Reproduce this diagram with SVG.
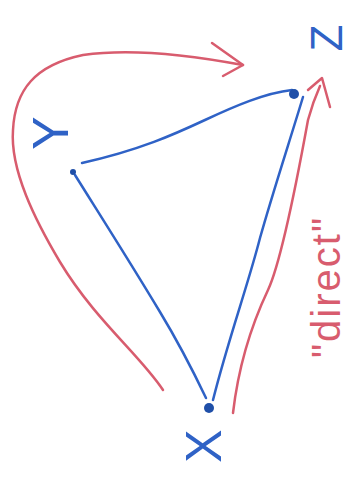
<svg xmlns="http://www.w3.org/2000/svg" width="354" height="479" viewBox="0 0 354 479">
<style>
.blue{stroke:#2f62c6;stroke-width:2.5;fill:none;stroke-linecap:round;stroke-linejoin:round}
.red{stroke:#d85c6e;stroke-width:2.5;fill:none;stroke-linecap:round;stroke-linejoin:round}
.dot{fill:#1f4fa8}
.lbl{font-family:"Liberation Sans","DejaVu Sans",sans-serif;fill:#2f62c6;font-size:50px;text-anchor:middle}
.rlbl{font-family:"Liberation Sans","DejaVu Sans",sans-serif;fill:#d85c6e;font-size:40px;text-anchor:middle;letter-spacing:2px}
</style>
<rect width="354" height="479" fill="#ffffff"/>
<g id="connectors">
  <path class="blue" d="M82,163 C140,150 175,134 205,120 S265,93 292,90"/>
  <path class="blue" d="M75,175 C100,215 130,262 160,312 C180,345 195,375 206,398"/>
  <path class="blue" d="M303,97 C290,140 272,195 260,238 C248,285 228,340 213,400"/>
  <path class="red" d="M163,390 C140,355 95,320 60,262 C35,220 10,170 13,130 C15,90 35,65 83,55 C130,48 190,55 243,65"/>
  <path class="red" d="M212,43 L243,65 L223,76"/>
  <path class="red" d="M233,413 C238,370 250,328 268,290 C282,260 298,175 308,120 C312,105 316,95 320,86"/>
  <path class="red" d="M308,90 L322,78 L330,107"/>
  <text class="rlbl" transform="translate(340,287) rotate(-90)">"direct"</text>
</g>
<g id="node-X">
  <circle class="dot" cx="209" cy="408" r="5"/>
  <text class="lbl" transform="translate(221,446) rotate(-90)">X</text>
</g>
<g id="node-Y">
  <circle class="dot" cx="73" cy="172" r="3"/>
  <text class="lbl" transform="translate(68,133) rotate(-90)">Y</text>
</g>
<g id="node-Z">
  <circle class="dot" cx="294" cy="94" r="5"/>
  <text class="lbl" style="font-size:44px" transform="translate(342,38) rotate(-90)">Z</text>
</g>
</svg>
